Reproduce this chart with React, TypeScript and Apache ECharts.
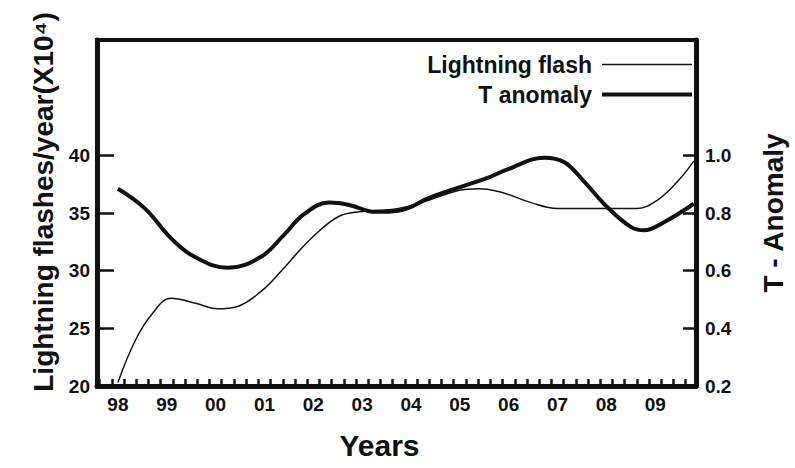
import React, { useEffect, useRef } from "react";
import * as echarts from "echarts";

// Lightning flash (x10^4 flashes/year) — [year, value]
const lightningYears = [1998.0, 1998.35, 1998.69, 1999.09, 1999.57, 2000.04, 2000.45, 2000.93, 2001.33, 2001.75, 2002.11, 2002.52, 2002.93, 2003.74, 2004.42, 2004.97, 2005.38, 2005.85, 2006.46, 2007.0, 2007.82, 2008.63, 2009.04, 2009.45, 2009.79];
const lightningValues = [20.3, 23.9, 26.2, 27.6, 27.2, 26.7, 26.9, 28.2, 29.9, 31.9, 33.4, 34.7, 35.1, 35.4, 36.2, 36.95, 37.1, 36.8, 35.9, 35.4, 35.4, 35.4, 36.1, 37.7, 39.5];

// T anomaly — [year, value]
const anomalyYears = [1998.0, 1998.55, 1999.09, 1999.57, 2000.25, 2000.93, 2001.4, 2001.81, 2002.32, 2002.73, 2003.27, 2003.74, 2004.42, 2004.97, 2005.51, 2005.99, 2006.73, 2007.14, 2007.55, 2008.02, 2008.5, 2008.77, 2009.18, 2009.79];
const anomalyValues = [0.884, 0.816, 0.712, 0.648, 0.61, 0.648, 0.724, 0.796, 0.836, 0.828, 0.804, 0.808, 0.856, 0.888, 0.918, 0.952, 0.992, 0.976, 0.908, 0.82, 0.752, 0.74, 0.768, 0.832];

const yearLabels = [1998, 1999, 2000, 2001, 2002, 2003, 2004, 2005, 2006, 2007, 2008, 2009];
const leftTickLabels = [20, 25, 30, 35, 40];
const rightTickLabels = [0.2, 0.4, 0.6, 0.8, 1.0];

const xMinorTicks: number[] = [];
for (let k = 0; k <= 48; k++) xMinorTicks.push(1997.625 + k * 0.25);

const FONT = "Liberation Sans";
const INK = "#111";

export default function App() {
  const ref = useRef<HTMLDivElement>(null);
  useEffect(() => {
    if (!ref.current) return;
    const chart = echarts.init(ref.current, null, { renderer: "svg" });
    const lightning = lightningYears.map((y, i) => [y, lightningValues[i]]);
    const anomaly = anomalyYears.map((y, i) => [y, anomalyValues[i]]);
    const legendText = { fontSize: 23, fontWeight: "bold", color: INK, fontFamily: FONT, padding: [0, 5, 0, 0] };
    chart.setOption({
      animation: false,
      backgroundColor: "#fff",
      textStyle: { fontFamily: FONT, color: INK },
      grid: {
        left: 97,
        right: 96,
        top: 40,
        bottom: 82,
        show: true,
        borderColor: INK,
        borderWidth: 4,
        containLabel: false,
      },
      legend: [
        {
          data: ["Lightning flash"],
          right: 103,
          top: 53,
          padding: 0,
          align: "right",
          icon: "rect",
          itemWidth: 90,
          itemHeight: 1.5,
          itemStyle: { color: INK },
          textStyle: legendText,
        },
        {
          data: ["T anomaly"],
          right: 103,
          top: 83,
          padding: 0,
          align: "right",
          icon: "rect",
          itemWidth: 90,
          itemHeight: 4,
          itemStyle: { color: INK },
          textStyle: legendText,
        },
      ],
      xAxis: {
        type: "value",
        min: 1997.572,
        max: 2009.835,
        name: "Years",
        nameLocation: "middle",
        nameGap: 44,
        nameTextStyle: { fontSize: 30, fontWeight: "bold", color: INK, fontFamily: FONT, padding: [0, 34, 0, 0] },
        axisLine: { show: true, lineStyle: { color: INK, width: 5 } },
        axisTick: { show: true, inside: true, length: 7, lineStyle: { color: INK, width: 2.5 }, customValues: xMinorTicks },
        axisLabel: {
          show: true,
          margin: 9,
          fontSize: 19,
          fontWeight: "bold",
          color: INK,
          fontFamily: FONT,
          customValues: yearLabels,
          formatter: (v: number) => String(Math.round(v)).slice(-2),
        },
        splitLine: { show: false },
      },
      yAxis: [
        {
          type: "value",
          min: 20,
          max: 50,
          interval: 5,
          position: "left",
          name: "Lightning flashes/year(X10\u2074)",
          nameLocation: "middle",
          nameGap: 38,
          nameRotate: 90,
          nameTextStyle: { fontSize: 28, fontWeight: "bold", color: INK, fontFamily: FONT, padding: [0, 0, 0, 22] },
          axisLine: { show: true, lineStyle: { color: INK, width: 5 } },
          axisTick: { show: true, inside: true, length: 17, lineStyle: { color: INK, width: 2.5 }, customValues: [25, 30, 35, 40] },
          axisLabel: {
            show: true,
            margin: 7,
            fontSize: 19,
            fontWeight: "bold",
            color: INK,
            fontFamily: FONT,
            customValues: leftTickLabels,
          },
          splitLine: { show: false },
        },
        {
          type: "value",
          min: 0.2,
          max: 1.4,
          interval: 0.2,
          position: "right",
          name: "T - Anomaly",
          nameLocation: "middle",
          nameGap: 63,
          nameRotate: 90,
          nameTextStyle: { fontSize: 28, fontWeight: "bold", color: INK, fontFamily: FONT },
          axisLine: { show: true, lineStyle: { color: INK, width: 5 } },
          axisTick: { show: true, inside: true, length: 13, lineStyle: { color: INK, width: 2.5 }, customValues: [0.4, 0.6, 0.8, 1.0] },
          axisLabel: {
            show: true,
            margin: 9,
            fontSize: 19,
            fontWeight: "bold",
            color: INK,
            fontFamily: FONT,
            customValues: rightTickLabels,
            formatter: (v: number) => v.toFixed(1),
          },
          splitLine: { show: false },
        },
      ],
      series: [
        {
          name: "Lightning flash",
          type: "line",
          yAxisIndex: 0,
          data: lightning,
          smooth: 0.4,
          symbol: "none",
          lineStyle: { color: INK, width: 1.5 },
          itemStyle: { color: INK },
        },
        {
          name: "T anomaly",
          type: "line",
          yAxisIndex: 1,
          data: anomaly,
          smooth: 0.4,
          symbol: "none",
          lineStyle: { color: INK, width: 4 },
          itemStyle: { color: INK },
        },
      ],
    });
    return () => chart.dispose();
  }, []);
  return (
    <div
      ref={ref}
      style={{ position: "fixed", left: 0, top: 0, width: 795, height: 468, background: "#fff" }}
    />
  );
}
